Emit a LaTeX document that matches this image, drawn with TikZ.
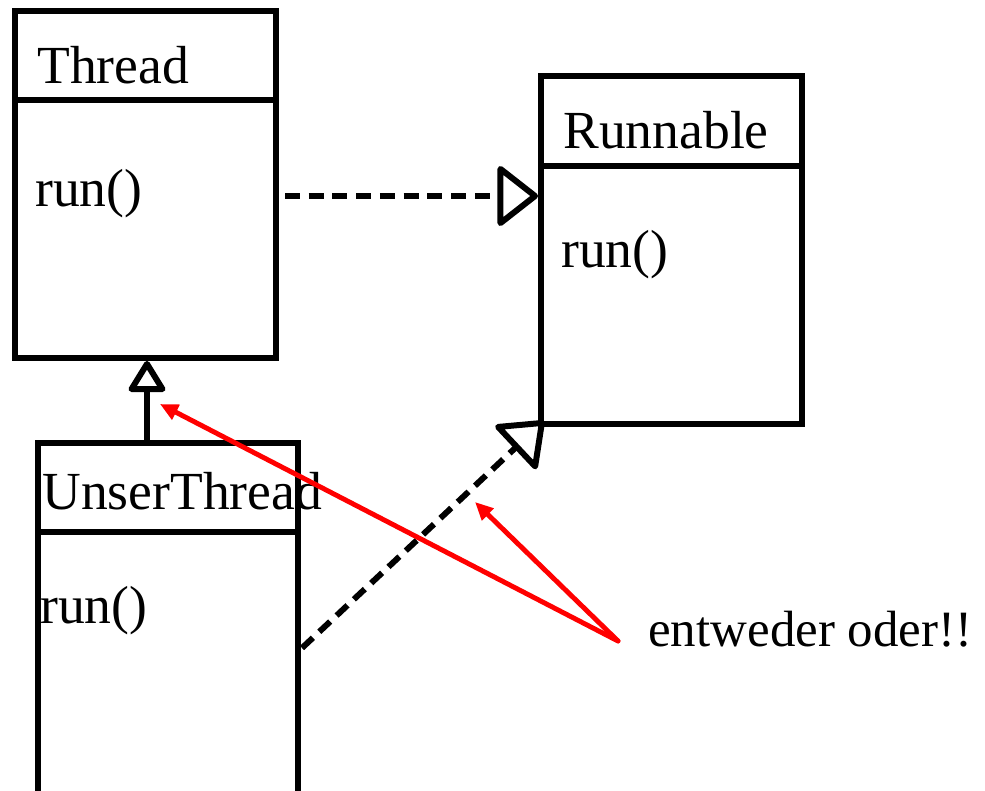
\documentclass[tikz,border=0pt]{standalone}
\usepackage{fontspec}
\setmainfont{Liberation Serif}
\usetikzlibrary{arrows.meta}
\tikzset{
  classbox/.style={draw,line width=3.4pt,rectangle,inner sep=0pt,
    minimum width=5.22cm},
  lbl/.style={inner sep=0pt,anchor=base west,font=\fontsize{30.5}{36}\selectfont},
  implements/.style={line width=3.4pt,dash pattern=on 8.5pt off 5pt,
    -{Triangle[open,round,length=0.85cm,width=1.3cm,line width=3.4pt]}},
  extends/.style={line width=3.4pt,
    -{Triangle[open,round,length=0.68cm,width=0.8cm,line width=3.4pt]}},
  remark/.style={red,line width=2.8pt,line cap=round,
    -{Triangle[length=0.36cm,width=0.32cm]}}
}
\begin{document}
\begin{tikzpicture}[x=0.02cm,y=-0.02cm]
  \useasboundingbox (0,0) rectangle (985,791);

  % classes
  \node[classbox,minimum height=6.94cm] (thread) at (145.5,184.5) {};
  \node[classbox,minimum height=6.96cm] (runnable) at (671.5,250) {};
  \node[classbox,minimum width=5.2cm,minimum height=7.14cm] (unser) at (168,621.5) {};

  \draw[line width=3.4pt] (12,100) -- (thread.east |- 0,100);
  \draw[line width=3.4pt] (538,166) -- (runnable.east |- 0,166);
  \draw[line width=3.4pt] (35,532) -- (unser.east |- 0,532);

  \node[lbl] (threadname) at (37,83) {Thread};
  \node[lbl] (threadrun) at (35,206) {run()};
  \node[lbl] (runnablename) at (563,148) {Runnable};
  \node[lbl] (runnablerun) at (561,267) {run()};
  \node[lbl] (unsername) at (42,509) {UnserThread};
  \node[lbl] (unserrun) at (40,623) {run()};
  \node[lbl,font=\fontsize{29}{34}\selectfont] (note) at (648,646) {entweder oder!!};

  % relations
  \coordinate (impl1) at (285,196);
  \draw[implements] (impl1) -- (impl1 -| runnable.west);
  \coordinate (ext) at (147,443);
  \draw[extends] (ext) -- (ext |- thread.south);
  \coordinate (impl2) at (302,648);
  \draw[implements] (impl2) -- ([shift={(6,-6)}]runnable.south west);

  % remark
  \coordinate (src) at (618,641);
  \coordinate (hit1) at (160,404);
  \coordinate (hit2) at (475,502);
  \draw[remark] (src) -- (hit1);
  \draw[remark] (src) -- (hit2);
\end{tikzpicture}
\end{document}
